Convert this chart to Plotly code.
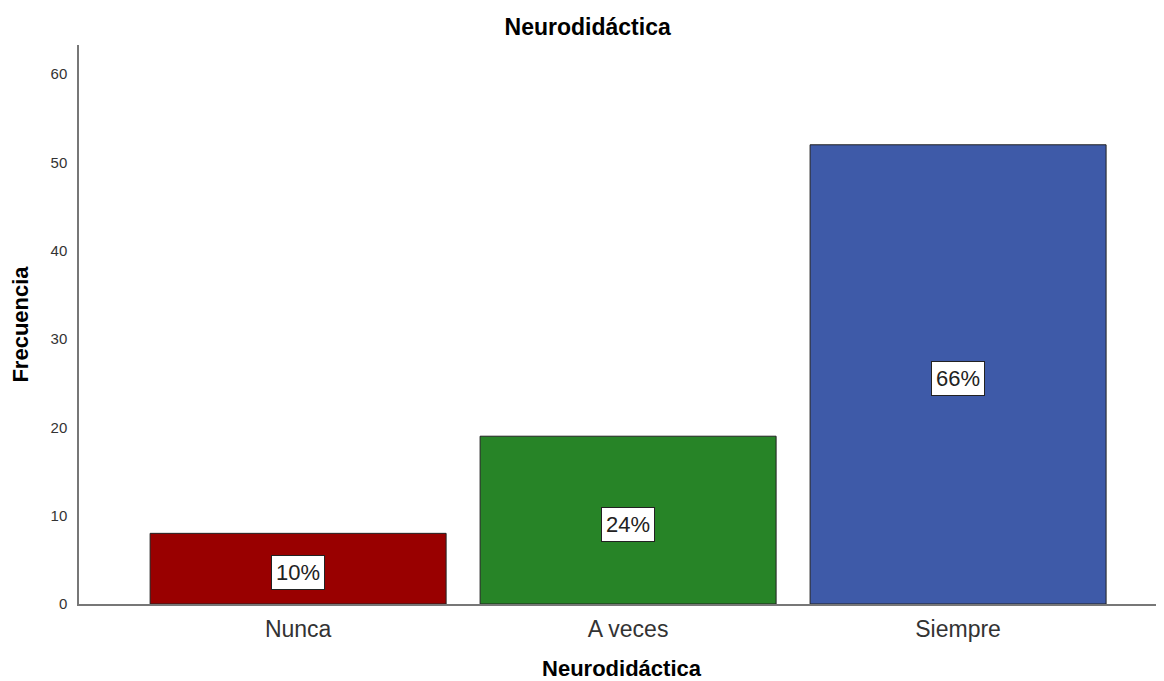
import plotly.graph_objects as go

# Datos
categorias = ["Nunca", "A veces", "Siempre"]
frecuencias = [8, 19, 52]
colores = ["#990000", "#278427", "#3e5aa8"]

total = sum(frecuencias)
porcentajes = [f"{round(f / total * 100):.0f}%" for f in frecuencias]

FONT = "Liberation Sans, Arial, sans-serif"

fig = go.Figure()

fig.add_trace(
    go.Bar(
        x=categorias,
        y=frecuencias,
        marker=dict(color=colores, line=dict(color="#222222", width=1)),
        width=0.897,
        showlegend=False,
        hoverinfo="skip",
    )
)

# Etiquetas de porcentaje en recuadro blanco
for cat, f, p in zip(categorias, frecuencias, porcentajes):
    fig.add_annotation(
        x=cat,
        y=f / 2,
        text=p,
        showarrow=False,
        yshift=-4,
        font=dict(family=FONT, size=22, color="#222222"),
        bgcolor="white",
        bordercolor="#222222",
        borderwidth=1,
        borderpad=4,
    )

# la página añade 8px de margen, se compensa aquí
fig.update_layout(
    title=dict(
        text="<b>Neurodidáctica</b>",
        font=dict(family=FONT, size=23, color="black"),
        x=0.498,
        xanchor="center",
        y=0.972,
        yanchor="middle",
    ),
    width=1164,
    height=681,
    margin=dict(l=71, r=8, t=37, b=85),
    plot_bgcolor="white",
    paper_bgcolor="white",
    font=dict(family=FONT, color="#222222"),
)

fig.update_xaxes(
    range=[-0.664, 2.624],
    showline=True,
    linecolor="#777777",
    linewidth=1.5,
    showgrid=False,
    ticks="",
    ticklabelstandoff=4,
    tickfont=dict(family=FONT, size=23, color="#333333"),
    title=dict(text="<b>Neurodidáctica</b>", font=dict(family=FONT, size=22, color="black"), standoff=19),
)

fig.update_yaxes(
    range=[0, 63.3],
    tickvals=[0, 10, 20, 30, 40, 50, 60],
    showline=True,
    linecolor="#777777",
    linewidth=1.5,
    showgrid=False,
    zeroline=False,
    ticks="",
    ticklabelstandoff=7,
    tickfont=dict(family=FONT, size=15, color="#333333"),
    title=dict(text="<b>Frecuencia</b>", font=dict(family=FONT, size=22, color="black"), standoff=18),
)

fig.write_html("out.html")
